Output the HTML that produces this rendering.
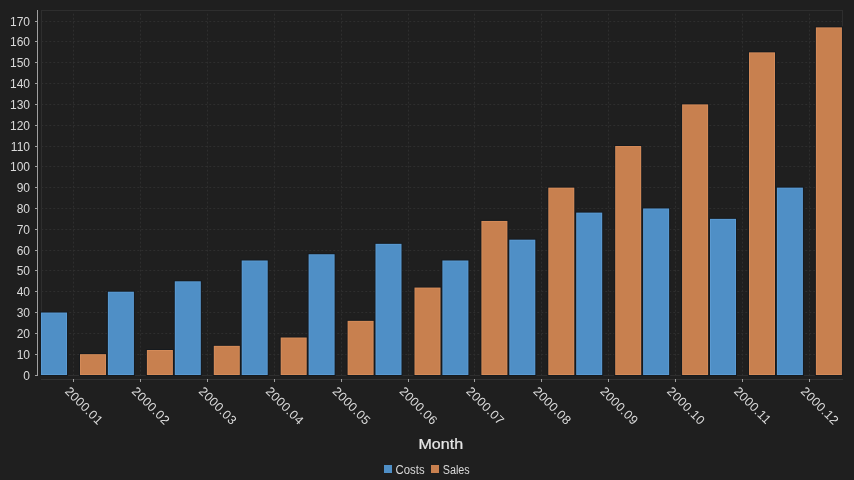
<!DOCTYPE html><html><head><meta charset="utf-8"><style>html,body{margin:0;padding:0;background:#1f1f1f;width:854px;height:480px;overflow:hidden}svg{display:block;will-change:transform}text{font-family:"Liberation Sans",sans-serif}</style></head><body>
<svg width="854" height="480" viewBox="0 0 854 480">
<rect x="0" y="0" width="854" height="480" fill="#1f1f1f"/>
<rect x="41.5" y="10.5" width="801" height="365" fill="none" stroke="#2e2e2e" stroke-width="1"/>
<line x1="41.25" y1="354.5" x2="842" y2="354.5" stroke="#2e2e2e" stroke-width="1" stroke-dasharray="2 2"/>
<line x1="41.25" y1="333.5" x2="842" y2="333.5" stroke="#2e2e2e" stroke-width="1" stroke-dasharray="2 2"/>
<line x1="41.25" y1="312.5" x2="842" y2="312.5" stroke="#2e2e2e" stroke-width="1" stroke-dasharray="2 2"/>
<line x1="41.25" y1="291.5" x2="842" y2="291.5" stroke="#2e2e2e" stroke-width="1" stroke-dasharray="2 2"/>
<line x1="41.25" y1="270.5" x2="842" y2="270.5" stroke="#2e2e2e" stroke-width="1" stroke-dasharray="2 2"/>
<line x1="41.25" y1="250.5" x2="842" y2="250.5" stroke="#2e2e2e" stroke-width="1" stroke-dasharray="2 2"/>
<line x1="41.25" y1="229.5" x2="842" y2="229.5" stroke="#2e2e2e" stroke-width="1" stroke-dasharray="2 2"/>
<line x1="41.25" y1="208.5" x2="842" y2="208.5" stroke="#2e2e2e" stroke-width="1" stroke-dasharray="2 2"/>
<line x1="41.25" y1="187.5" x2="842" y2="187.5" stroke="#2e2e2e" stroke-width="1" stroke-dasharray="2 2"/>
<line x1="41.25" y1="166.5" x2="842" y2="166.5" stroke="#2e2e2e" stroke-width="1" stroke-dasharray="2 2"/>
<line x1="41.25" y1="146.5" x2="842" y2="146.5" stroke="#2e2e2e" stroke-width="1" stroke-dasharray="2 2"/>
<line x1="41.25" y1="125.5" x2="842" y2="125.5" stroke="#2e2e2e" stroke-width="1" stroke-dasharray="2 2"/>
<line x1="41.25" y1="104.5" x2="842" y2="104.5" stroke="#2e2e2e" stroke-width="1" stroke-dasharray="2 2"/>
<line x1="41.25" y1="83.5" x2="842" y2="83.5" stroke="#2e2e2e" stroke-width="1" stroke-dasharray="2 2"/>
<line x1="41.25" y1="62.5" x2="842" y2="62.5" stroke="#2e2e2e" stroke-width="1" stroke-dasharray="2 2"/>
<line x1="41.25" y1="41.5" x2="842" y2="41.5" stroke="#2e2e2e" stroke-width="1" stroke-dasharray="2 2"/>
<line x1="41.25" y1="21.5" x2="842" y2="21.5" stroke="#2e2e2e" stroke-width="1" stroke-dasharray="2 2"/>
<line x1="73.5" y1="13.7" x2="73.5" y2="375" stroke="#2e2e2e" stroke-width="1" stroke-dasharray="2 2"/>
<line x1="140.5" y1="13.7" x2="140.5" y2="375" stroke="#2e2e2e" stroke-width="1" stroke-dasharray="2 2"/>
<line x1="207.5" y1="13.7" x2="207.5" y2="375" stroke="#2e2e2e" stroke-width="1" stroke-dasharray="2 2"/>
<line x1="274.5" y1="13.7" x2="274.5" y2="375" stroke="#2e2e2e" stroke-width="1" stroke-dasharray="2 2"/>
<line x1="341.5" y1="13.7" x2="341.5" y2="375" stroke="#2e2e2e" stroke-width="1" stroke-dasharray="2 2"/>
<line x1="408.5" y1="13.7" x2="408.5" y2="375" stroke="#2e2e2e" stroke-width="1" stroke-dasharray="2 2"/>
<line x1="474.5" y1="13.7" x2="474.5" y2="375" stroke="#2e2e2e" stroke-width="1" stroke-dasharray="2 2"/>
<line x1="541.5" y1="13.7" x2="541.5" y2="375" stroke="#2e2e2e" stroke-width="1" stroke-dasharray="2 2"/>
<line x1="608.5" y1="13.7" x2="608.5" y2="375" stroke="#2e2e2e" stroke-width="1" stroke-dasharray="2 2"/>
<line x1="675.5" y1="13.7" x2="675.5" y2="375" stroke="#2e2e2e" stroke-width="1" stroke-dasharray="2 2"/>
<line x1="742.5" y1="13.7" x2="742.5" y2="375" stroke="#2e2e2e" stroke-width="1" stroke-dasharray="2 2"/>
<line x1="809.5" y1="13.7" x2="809.5" y2="375" stroke="#2e2e2e" stroke-width="1" stroke-dasharray="2 2"/>
<rect x="40.00" y="311.53" width="28" height="64.47" fill="#161a1e"/>
<rect x="41.00" y="312.53" width="26" height="62.47" fill="#5a9ad2"/>
<rect x="42.00" y="313.53" width="24" height="60.47" fill="#4f8fc6"/>
<rect x="79.00" y="353.16" width="28" height="22.84" fill="#161a1e"/>
<rect x="80.00" y="354.16" width="26" height="20.84" fill="#d48b59"/>
<rect x="81.00" y="355.16" width="24" height="18.84" fill="#c8804f"/>
<rect x="106.90" y="290.72" width="28" height="85.28" fill="#161a1e"/>
<rect x="107.90" y="291.72" width="26" height="83.28" fill="#5a9ad2"/>
<rect x="108.90" y="292.72" width="24" height="81.28" fill="#4f8fc6"/>
<rect x="145.90" y="349.00" width="28" height="27.00" fill="#161a1e"/>
<rect x="146.90" y="350.00" width="26" height="25.00" fill="#d48b59"/>
<rect x="147.90" y="351.00" width="24" height="23.00" fill="#c8804f"/>
<rect x="173.80" y="280.31" width="28" height="95.69" fill="#161a1e"/>
<rect x="174.80" y="281.31" width="26" height="93.69" fill="#5a9ad2"/>
<rect x="175.80" y="282.31" width="24" height="91.69" fill="#4f8fc6"/>
<rect x="212.80" y="344.84" width="28" height="31.16" fill="#161a1e"/>
<rect x="213.80" y="345.84" width="26" height="29.16" fill="#d48b59"/>
<rect x="214.80" y="346.84" width="24" height="27.16" fill="#c8804f"/>
<rect x="240.70" y="259.50" width="28" height="116.50" fill="#161a1e"/>
<rect x="241.70" y="260.50" width="26" height="114.50" fill="#5a9ad2"/>
<rect x="242.70" y="261.50" width="24" height="112.50" fill="#4f8fc6"/>
<rect x="279.70" y="336.51" width="28" height="39.49" fill="#161a1e"/>
<rect x="280.70" y="337.51" width="26" height="37.49" fill="#d48b59"/>
<rect x="281.70" y="338.51" width="24" height="35.49" fill="#c8804f"/>
<rect x="307.60" y="253.25" width="28" height="122.75" fill="#161a1e"/>
<rect x="308.60" y="254.25" width="26" height="120.75" fill="#5a9ad2"/>
<rect x="309.60" y="255.25" width="24" height="118.75" fill="#4f8fc6"/>
<rect x="346.60" y="319.86" width="28" height="56.14" fill="#161a1e"/>
<rect x="347.60" y="320.86" width="26" height="54.14" fill="#d48b59"/>
<rect x="348.60" y="321.86" width="24" height="52.14" fill="#c8804f"/>
<rect x="374.50" y="242.85" width="28" height="133.15" fill="#161a1e"/>
<rect x="375.50" y="243.85" width="26" height="131.15" fill="#5a9ad2"/>
<rect x="376.50" y="244.85" width="24" height="129.15" fill="#4f8fc6"/>
<rect x="413.50" y="286.56" width="28" height="89.44" fill="#161a1e"/>
<rect x="414.50" y="287.56" width="26" height="87.44" fill="#d48b59"/>
<rect x="415.50" y="288.56" width="24" height="85.44" fill="#c8804f"/>
<rect x="441.40" y="259.50" width="28" height="116.50" fill="#161a1e"/>
<rect x="442.40" y="260.50" width="26" height="114.50" fill="#5a9ad2"/>
<rect x="443.40" y="261.50" width="24" height="112.50" fill="#4f8fc6"/>
<rect x="480.40" y="219.95" width="28" height="156.05" fill="#161a1e"/>
<rect x="481.40" y="220.95" width="26" height="154.05" fill="#d48b59"/>
<rect x="482.40" y="221.95" width="24" height="152.05" fill="#c8804f"/>
<rect x="508.30" y="238.68" width="28" height="137.32" fill="#161a1e"/>
<rect x="509.30" y="239.68" width="26" height="135.32" fill="#5a9ad2"/>
<rect x="510.30" y="240.68" width="24" height="133.32" fill="#4f8fc6"/>
<rect x="547.30" y="186.64" width="28" height="189.36" fill="#161a1e"/>
<rect x="548.30" y="187.64" width="26" height="187.36" fill="#d48b59"/>
<rect x="549.30" y="188.64" width="24" height="185.36" fill="#c8804f"/>
<rect x="575.20" y="211.62" width="28" height="164.38" fill="#161a1e"/>
<rect x="576.20" y="212.62" width="26" height="162.38" fill="#5a9ad2"/>
<rect x="577.20" y="213.62" width="24" height="160.38" fill="#4f8fc6"/>
<rect x="614.20" y="145.01" width="28" height="230.99" fill="#161a1e"/>
<rect x="615.20" y="146.01" width="26" height="228.99" fill="#d48b59"/>
<rect x="616.20" y="147.01" width="24" height="226.99" fill="#c8804f"/>
<rect x="642.10" y="207.46" width="28" height="168.54" fill="#161a1e"/>
<rect x="643.10" y="208.46" width="26" height="166.54" fill="#5a9ad2"/>
<rect x="644.10" y="209.46" width="24" height="164.54" fill="#4f8fc6"/>
<rect x="681.10" y="103.38" width="28" height="272.62" fill="#161a1e"/>
<rect x="682.10" y="104.38" width="26" height="270.62" fill="#d48b59"/>
<rect x="683.10" y="105.38" width="24" height="268.62" fill="#c8804f"/>
<rect x="709.00" y="217.87" width="28" height="158.13" fill="#161a1e"/>
<rect x="710.00" y="218.87" width="26" height="156.13" fill="#5a9ad2"/>
<rect x="711.00" y="219.87" width="24" height="154.13" fill="#4f8fc6"/>
<rect x="748.00" y="51.35" width="28" height="324.65" fill="#161a1e"/>
<rect x="749.00" y="52.35" width="26" height="322.65" fill="#d48b59"/>
<rect x="750.00" y="53.35" width="24" height="320.65" fill="#c8804f"/>
<rect x="775.90" y="186.64" width="28" height="189.36" fill="#161a1e"/>
<rect x="776.90" y="187.64" width="26" height="187.36" fill="#5a9ad2"/>
<rect x="777.90" y="188.64" width="24" height="185.36" fill="#4f8fc6"/>
<rect x="814.90" y="26.37" width="28" height="349.63" fill="#161a1e"/>
<rect x="815.90" y="27.37" width="26" height="347.63" fill="#d48b59"/>
<rect x="816.90" y="28.37" width="24" height="345.63" fill="#c8804f"/>
<line x1="37.5" y1="10" x2="37.5" y2="376" stroke="#a0a0a0" stroke-width="1"/>
<line x1="35" y1="375.5" x2="37" y2="375.5" stroke="#a0a0a0" stroke-width="1"/>
<text x="30" y="379.8" font-size="12" fill="#dadada" text-anchor="end">0</text>
<line x1="35" y1="354.5" x2="37" y2="354.5" stroke="#a0a0a0" stroke-width="1"/>
<text x="30" y="358.8" font-size="12" fill="#dadada" text-anchor="end">10</text>
<line x1="35" y1="333.5" x2="37" y2="333.5" stroke="#a0a0a0" stroke-width="1"/>
<text x="30" y="337.8" font-size="12" fill="#dadada" text-anchor="end">20</text>
<line x1="35" y1="312.5" x2="37" y2="312.5" stroke="#a0a0a0" stroke-width="1"/>
<text x="30" y="316.8" font-size="12" fill="#dadada" text-anchor="end">30</text>
<line x1="35" y1="291.5" x2="37" y2="291.5" stroke="#a0a0a0" stroke-width="1"/>
<text x="30" y="295.8" font-size="12" fill="#dadada" text-anchor="end">40</text>
<line x1="35" y1="270.5" x2="37" y2="270.5" stroke="#a0a0a0" stroke-width="1"/>
<text x="30" y="274.8" font-size="12" fill="#dadada" text-anchor="end">50</text>
<line x1="35" y1="250.5" x2="37" y2="250.5" stroke="#a0a0a0" stroke-width="1"/>
<text x="30" y="254.8" font-size="12" fill="#dadada" text-anchor="end">60</text>
<line x1="35" y1="229.5" x2="37" y2="229.5" stroke="#a0a0a0" stroke-width="1"/>
<text x="30" y="233.8" font-size="12" fill="#dadada" text-anchor="end">70</text>
<line x1="35" y1="208.5" x2="37" y2="208.5" stroke="#a0a0a0" stroke-width="1"/>
<text x="30" y="212.8" font-size="12" fill="#dadada" text-anchor="end">80</text>
<line x1="35" y1="187.5" x2="37" y2="187.5" stroke="#a0a0a0" stroke-width="1"/>
<text x="30" y="191.8" font-size="12" fill="#dadada" text-anchor="end">90</text>
<line x1="35" y1="166.5" x2="37" y2="166.5" stroke="#a0a0a0" stroke-width="1"/>
<text x="30" y="170.8" font-size="12" fill="#dadada" text-anchor="end">100</text>
<line x1="35" y1="146.5" x2="37" y2="146.5" stroke="#a0a0a0" stroke-width="1"/>
<text x="30" y="150.8" font-size="12" fill="#dadada" text-anchor="end">110</text>
<line x1="35" y1="125.5" x2="37" y2="125.5" stroke="#a0a0a0" stroke-width="1"/>
<text x="30" y="129.8" font-size="12" fill="#dadada" text-anchor="end">120</text>
<line x1="35" y1="104.5" x2="37" y2="104.5" stroke="#a0a0a0" stroke-width="1"/>
<text x="30" y="108.8" font-size="12" fill="#dadada" text-anchor="end">130</text>
<line x1="35" y1="83.5" x2="37" y2="83.5" stroke="#a0a0a0" stroke-width="1"/>
<text x="30" y="87.8" font-size="12" fill="#dadada" text-anchor="end">140</text>
<line x1="35" y1="62.5" x2="37" y2="62.5" stroke="#a0a0a0" stroke-width="1"/>
<text x="30" y="66.8" font-size="12" fill="#dadada" text-anchor="end">150</text>
<line x1="35" y1="41.5" x2="37" y2="41.5" stroke="#a0a0a0" stroke-width="1"/>
<text x="30" y="45.8" font-size="12" fill="#dadada" text-anchor="end">160</text>
<line x1="35" y1="21.5" x2="37" y2="21.5" stroke="#a0a0a0" stroke-width="1"/>
<text x="30" y="25.8" font-size="12" fill="#dadada" text-anchor="end">170</text>
<line x1="41" y1="379.5" x2="843" y2="379.5" stroke="#333333" stroke-width="1"/>
<line x1="73.5" y1="379" x2="73.5" y2="382" stroke="#a0a0a0" stroke-width="1"/>
<text x="0" y="0" font-size="12.5" letter-spacing="0.35" fill="#dadada" transform="translate(64.20,392.0) rotate(45)">2000.01</text>
<line x1="140.5" y1="379" x2="140.5" y2="382" stroke="#a0a0a0" stroke-width="1"/>
<text x="0" y="0" font-size="12.5" letter-spacing="0.35" fill="#dadada" transform="translate(131.10,392.0) rotate(45)">2000.02</text>
<line x1="207.5" y1="379" x2="207.5" y2="382" stroke="#a0a0a0" stroke-width="1"/>
<text x="0" y="0" font-size="12.5" letter-spacing="0.35" fill="#dadada" transform="translate(198.00,392.0) rotate(45)">2000.03</text>
<line x1="274.5" y1="379" x2="274.5" y2="382" stroke="#a0a0a0" stroke-width="1"/>
<text x="0" y="0" font-size="12.5" letter-spacing="0.35" fill="#dadada" transform="translate(264.90,392.0) rotate(45)">2000.04</text>
<line x1="341.5" y1="379" x2="341.5" y2="382" stroke="#a0a0a0" stroke-width="1"/>
<text x="0" y="0" font-size="12.5" letter-spacing="0.35" fill="#dadada" transform="translate(331.80,392.0) rotate(45)">2000.05</text>
<line x1="408.5" y1="379" x2="408.5" y2="382" stroke="#a0a0a0" stroke-width="1"/>
<text x="0" y="0" font-size="12.5" letter-spacing="0.35" fill="#dadada" transform="translate(398.70,392.0) rotate(45)">2000.06</text>
<line x1="474.5" y1="379" x2="474.5" y2="382" stroke="#a0a0a0" stroke-width="1"/>
<text x="0" y="0" font-size="12.5" letter-spacing="0.35" fill="#dadada" transform="translate(465.60,392.0) rotate(45)">2000.07</text>
<line x1="541.5" y1="379" x2="541.5" y2="382" stroke="#a0a0a0" stroke-width="1"/>
<text x="0" y="0" font-size="12.5" letter-spacing="0.35" fill="#dadada" transform="translate(532.50,392.0) rotate(45)">2000.08</text>
<line x1="608.5" y1="379" x2="608.5" y2="382" stroke="#a0a0a0" stroke-width="1"/>
<text x="0" y="0" font-size="12.5" letter-spacing="0.35" fill="#dadada" transform="translate(599.40,392.0) rotate(45)">2000.09</text>
<line x1="675.5" y1="379" x2="675.5" y2="382" stroke="#a0a0a0" stroke-width="1"/>
<text x="0" y="0" font-size="12.5" letter-spacing="0.35" fill="#dadada" transform="translate(666.30,392.0) rotate(45)">2000.10</text>
<line x1="742.5" y1="379" x2="742.5" y2="382" stroke="#a0a0a0" stroke-width="1"/>
<text x="0" y="0" font-size="12.5" letter-spacing="0.35" fill="#dadada" transform="translate(733.20,392.0) rotate(45)">2000.11</text>
<line x1="809.5" y1="379" x2="809.5" y2="382" stroke="#a0a0a0" stroke-width="1"/>
<text x="0" y="0" font-size="12.5" letter-spacing="0.35" fill="#dadada" transform="translate(800.10,392.0) rotate(45)">2000.12</text>
<text x="418.5" y="449" font-size="14.2" textLength="44.6" lengthAdjust="spacingAndGlyphs" fill="#e6e6e6" stroke="#e6e6e6" stroke-width="0.22">Month</text>
<rect x="384" y="465" width="8" height="8" fill="#4f8fc6"/>
<text x="395.6" y="473.7" font-size="12" textLength="29" lengthAdjust="spacingAndGlyphs" fill="#dadada">Costs</text>
<rect x="431" y="465" width="8" height="8" fill="#c8804f"/>
<text x="442.7" y="473.7" font-size="12" textLength="27" lengthAdjust="spacingAndGlyphs" fill="#dadada">Sales</text>
</svg></body></html>
